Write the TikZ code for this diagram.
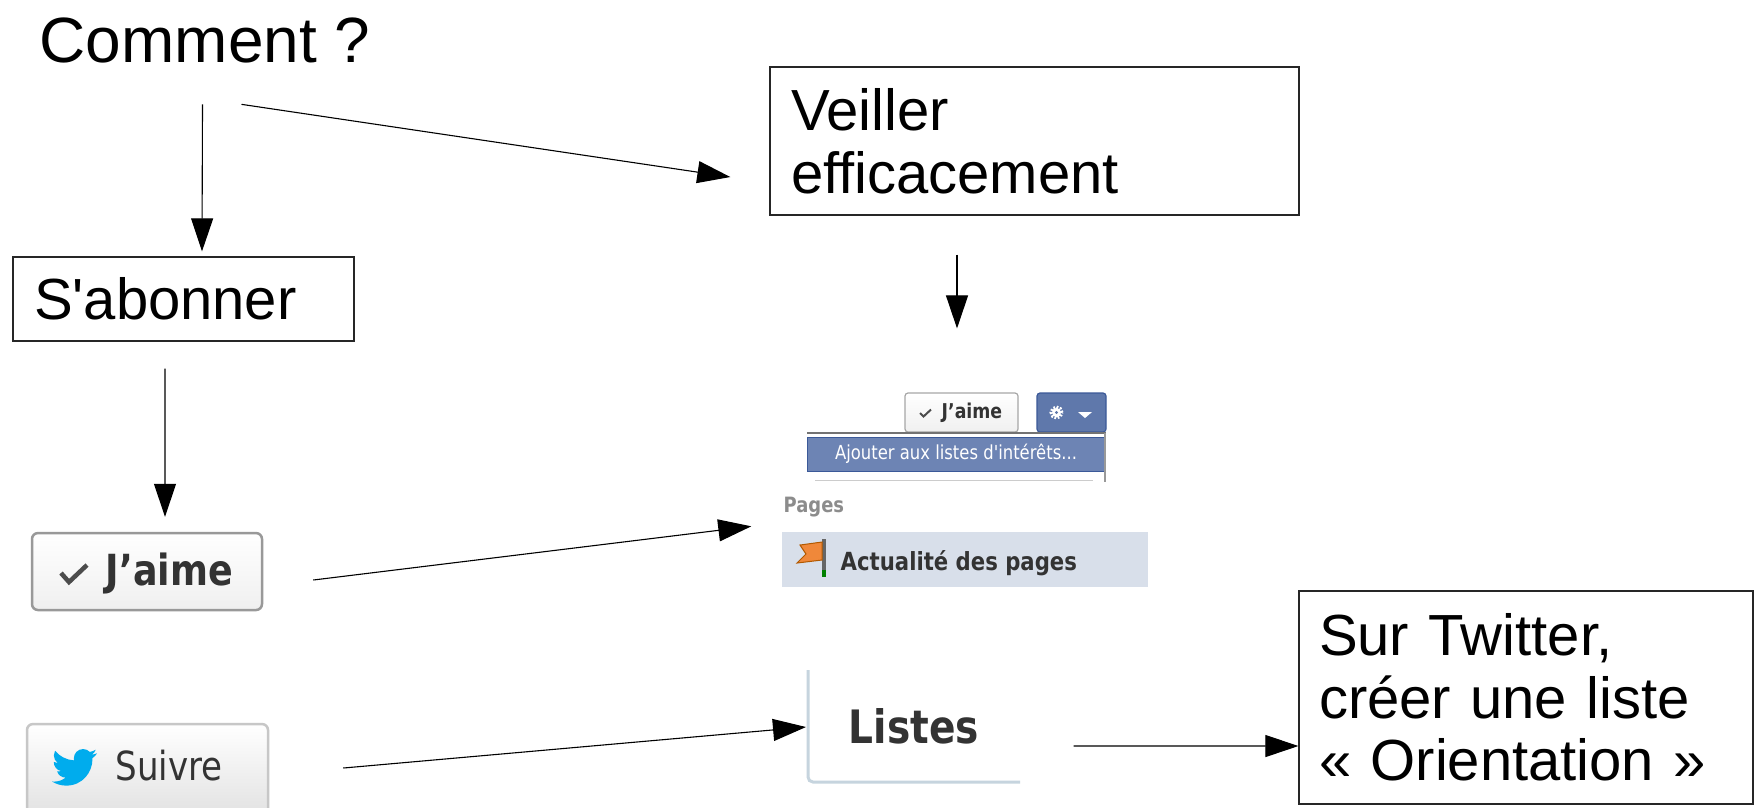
\documentclass[tikz,border=0pt]{standalone}
\usepackage{fontspec}
\setmainfont{Liberation Sans}
\newfontfamily\fbfont[FakeStretch=0.85]{DejaVu Sans}
\usetikzlibrary{arrows.meta}

\definecolor{fbblue}{HTML}{6D84B4}
\definecolor{fbdark}{HTML}{3B5998}
\definecolor{gearblue}{HTML}{5F78AB}
\definecolor{feedbg}{HTML}{D8DFEA}
\definecolor{listline}{HTML}{C6D4DE}
\definecolor{twblue}{HTML}{00ACED}
\definecolor{btntext}{HTML}{333333}
\definecolor{flagorange}{HTML}{F0883A}

\tikzset{
  box/.style={draw=black!85, line width=0.013cm, rectangle, align=left, inner xsep=0.21cm, inner ysep=0pt, font=\fontsize{16.5}{17.8}\selectfont},
  arr/.style={-{Triangle[length=0.33cm,width=0.22cm]}, line width=0.011cm},
  fbbtn/.style={draw=black!40, line width=0.025cm, rounded corners=0.06cm, top color=white, bottom color=black!6, inner sep=0pt},
  fbtext/.style={anchor=base west, inner sep=0pt, text=btntext},
}

\begin{document}
\begin{tikzpicture}
\useasboundingbox (0,0) rectangle (17.59,-8.07);
\clip (0,0) rectangle (17.59,-8.07);
\fill[white] (0,0) rectangle (17.59,-8.07);

% questions
\node[anchor=base west, inner sep=0pt, font=\fontsize{18.2}{20}\selectfont] (comment) at (0.39,-0.62) {Comment ?};
\node[box, minimum width=5.29cm, minimum height=1.48cm, text width=4.87cm] (veiller) at (10.345,-1.41) {Veiller\\efficacement};
\node[box, minimum width=3.41cm, minimum height=0.84cm, text width=2.99cm] (sabonner) at (1.835,-2.99) {S\textquotesingle abonner};
\node[box, inner xsep=0.2cm, minimum width=4.54cm, minimum height=2.13cm, text width=4.14cm] (twitter) at (15.26,-6.975) {Sur Twitter,\\créer une liste\\« Orientation »};

% bouton J'aime
\node[fbbtn, draw=black!40, minimum width=2.30cm, minimum height=0.77cm] (likebtn) at (1.47,-5.715) {};
\draw[black!70, line width=0.045cm] (0.61,-5.73) -- (0.69,-5.82) -- (0.87,-5.65);
\node[fbtext, font=\fbfont\bfseries\fontsize{12.2}{14}\selectfont] (liketxt) at (1.05,-5.85) {J’aime};

% bouton Suivre
\node[fbbtn, draw=black!22, bottom color=black!12, minimum width=2.41cm, minimum height=0.96cm] (follow) at (1.475,-7.72) {};
\begin{scope}[xshift=0.52cm, yshift=-7.448cm, x=0.01875cm, y=-0.01875cm]
\fill[twblue] (23.954,4.569) .. controls (23.069,4.958) and (22.124,5.223) .. (21.129,5.344)
  .. controls (22.143,4.733) and (22.923,3.770) .. (23.292,2.621)
  .. controls (22.341,3.176) and (21.287,3.580) .. (20.165,3.805)
  .. controls (19.269,2.846) and (17.992,2.246) .. (16.574,2.246)
  .. controls (13.857,2.246) and (11.654,4.449) .. (11.654,7.163)
  .. controls (11.654,7.553) and (11.699,7.928) .. (11.781,8.287)
  .. controls (7.691,8.094) and (4.066,6.130) .. (1.640,3.161)
  .. controls (1.213,3.883) and (0.974,4.722) .. (0.974,5.636)
  .. controls (0.974,7.346) and (1.844,8.849) .. (3.162,9.732)
  .. controls (2.355,9.706) and (1.596,9.484) .. (0.934,9.116)
  -- (0.934,9.177)
  .. controls (0.934,11.562) and (2.627,13.551) .. (4.880,14.004)
  .. controls (4.467,14.115) and (4.031,14.175) .. (3.584,14.175)
  .. controls (3.270,14.175) and (2.969,14.145) .. (2.668,14.089)
  .. controls (3.299,16.042) and (5.113,17.466) .. (7.272,17.506)
  .. controls (5.592,18.825) and (3.463,19.611) .. (1.170,19.611)
  .. controls (0.780,19.611) and (0.391,19.588) .. (0,19.544)
  .. controls (2.189,20.938) and (4.768,21.753) .. (7.557,21.753)
  .. controls (16.611,21.753) and (21.556,14.257) .. (21.556,7.767)
  .. controls (21.556,7.558) and (21.556,7.347) .. (21.541,7.137)
  .. controls (22.502,6.448) and (23.341,5.577) .. (24.001,4.589) -- cycle;
\end{scope}
\node[fbtext, font=\fbfont\fontsize{11.4}{13}\selectfont] (suivre) at (1.15,-7.80) {Suivre};

% menu Facebook
\node[fbbtn, draw=black!35, line width=0.012cm, rounded corners=0.03cm, minimum width=1.13cm, minimum height=0.39cm] (likesmall) at (9.615,-4.125) {};
\draw[black!70, line width=0.02cm] (9.20,-4.13) -- (9.235,-4.165) -- (9.31,-4.095);
\node[fbtext, font=\fbfont\bfseries\fontsize{5.8}{6}\selectfont] (likesmalltxt) at (9.41,-4.18) {J’aime};
\node[draw=fbdark, fill=gearblue, line width=0.012cm, rounded corners=0.03cm, minimum width=0.69cm, minimum height=0.39cm, inner sep=0pt] (gear) at (10.715,-4.125) {};
\draw[white, line width=0.03cm, dash pattern=on 0.018cm off 0.015cm] (10.565,-4.125) circle (0.055);
\fill[white] (10.565,-4.125) circle (0.045);
\fill[gearblue] (10.565,-4.125) circle (0.017);
\fill[white] (10.78,-4.12) -- (10.92,-4.12) -- (10.85,-4.18) -- cycle;
\draw[black!55, line width=0.02cm] (8.07,-4.33) -- (11.06,-4.33);
\node[fill=fbblue, draw=fbdark, line width=0.01cm, minimum width=2.98cm, minimum height=0.34cm, inner sep=0pt, text=white, font=\fbfont\fontsize{5.5}{6}\selectfont] (addlist) at (9.56,-4.54) {Ajouter aux listes d'intérêts...};
\draw[black!40, line width=0.015cm] (11.05,-4.33) -- (11.05,-4.82);
\draw[black!20, line width=0.01cm] (8.15,-4.80) -- (10.93,-4.80);

\node[fbtext, text=black!45, font=\fbfont\bfseries\fontsize{6}{7}\selectfont] (pages) at (7.83,-5.12) {Pages};
\node[fill=feedbg, minimum width=3.66cm, minimum height=0.55cm, inner sep=0pt] (newsfeed) at (9.65,-5.595) {};
\fill[black!60] (8.22,-5.39) rectangle (8.26,-5.77);
\fill[green!50!black] (8.22,-5.70) rectangle (8.26,-5.77);
\filldraw[fill=flagorange, draw=orange!70!black, line width=0.01cm] (8.22,-5.42) -- (8.00,-5.45) -- (8.06,-5.54) -- (7.97,-5.63) -- (8.22,-5.60) -- cycle;
\node[fbtext, font=\fbfont\bfseries\fontsize{7.1}{8}\selectfont] (newsfeedtxt) at (8.40,-5.70) {Actualité des pages};

% listes Twitter
\draw[listline, line width=0.03cm, rounded corners=0.05cm] (8.08,-6.70) -- (8.08,-7.82) -- (10.20,-7.82);
\node[fbtext, font=\fbfont\bfseries\fontsize{13.1}{15}\selectfont] (lists) at (8.48,-7.43) {Listes};

% fleches
\draw[arr] ([xshift=-0.025cm,yshift=-0.41cm]comment.south) -- ([xshift=0.185cm,yshift=0.05cm]sabonner.north);
\draw[arr] ([xshift=0.365cm,yshift=-0.41cm]comment.south) -- ([xshift=-0.39cm,yshift=-0.36cm]veiller.west);
\draw[arr] ([xshift=-0.775cm,yshift=-0.39cm]veiller.south) -- ([xshift=-0.045cm,yshift=0.64cm]likesmall.north);
\draw[arr] ([xshift=-0.185cm,yshift=-0.27cm]sabonner.south) -- ([xshift=0.18cm,yshift=0.15cm]likebtn.north);
\draw[arr] ([xshift=0.5cm,yshift=-0.085cm]likebtn.east) -- ([xshift=-0.3cm,yshift=0.05cm]newsfeed.north west);
\draw[arr] ([xshift=0.74cm,yshift=0.04cm]follow.east) -- ([xshift=-0.42cm,yshift=0.16cm]lists.base west);
\draw[arr] ([xshift=0.94cm,yshift=-0.03cm]lists.base east) -- ([yshift=-0.485cm]twitter.west);
\end{tikzpicture}
\end{document}
